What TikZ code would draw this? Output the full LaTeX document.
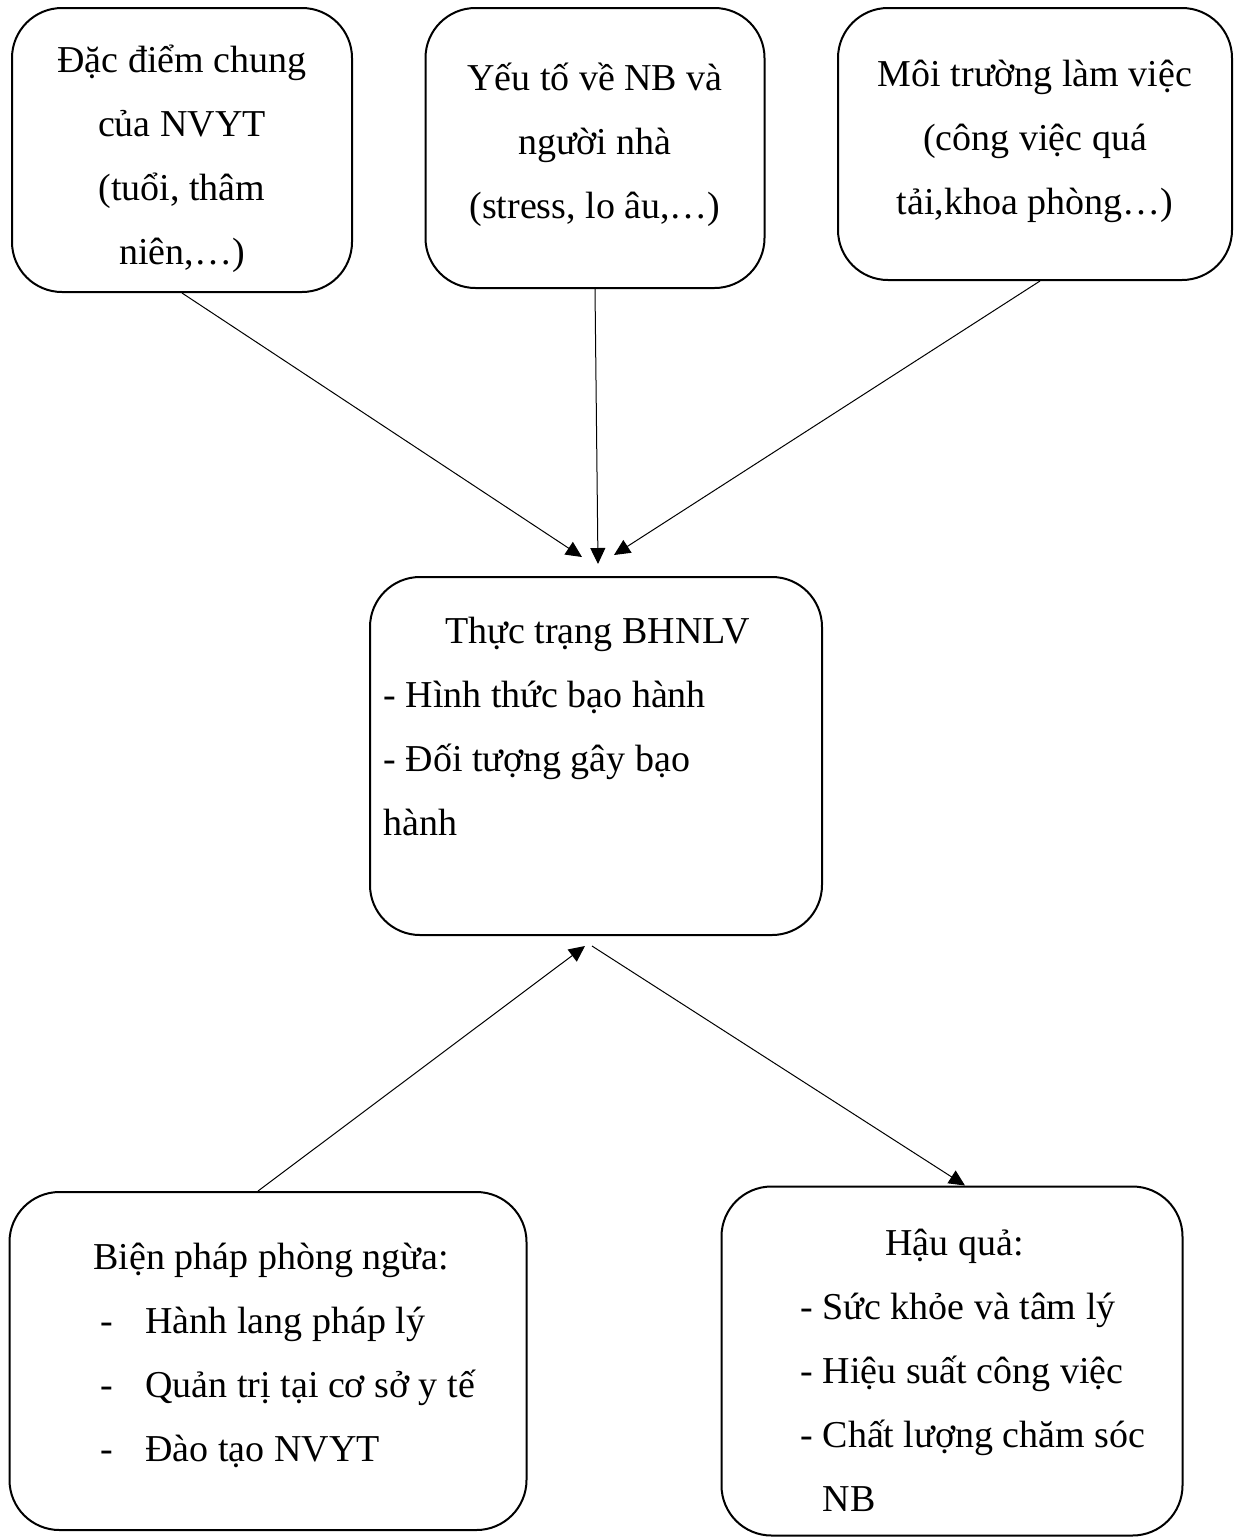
\documentclass[tikz,border=0pt]{standalone}
\usepackage{fontspec}
\setmainfont{Liberation Serif}
\usetikzlibrary{calc,arrows.meta}

\begin{document}
\begin{tikzpicture}[x=0.5pt,y=-0.5pt,line width=0.5pt,
 >={Triangle[length=8pt,width=7.5pt]},
 box/.style={draw,line width=1pt,rounded corners=25pt},
 ctxt/.style={inner sep=0pt,align=center,
  font=\fontsize{19}{32}\selectfont},
 txt/.style={inner sep=0pt,align=left,anchor=north west,
  font=\fontsize{19}{32}\selectfont}]

 \useasboundingbox (0,0) rectangle (1243,1538);

 \node[box,minimum width=170pt,minimum height=142pt] (dacdiem) at (182,150) {};
 \node[ctxt] (dacdiemtxt) at ($(dacdiem)+(0,9)$) {Đặc điểm chung\\của NVYT\\(tuổi, thâm\\niên,…)};

 \node[box,minimum width=169.5pt,minimum height=140pt] (yeuto) at (595,148) {};
 \node[ctxt] (yeutotxt) at ($(yeuto)+(0,-3)$) {Yếu tố về NB và\\người nhà\\(stress, lo âu,…)};

 \node[box,minimum width=197pt,minimum height=136pt] (moitruong) at (1035,144) {};
 \node[ctxt] (moitruongtxt) at ($(moitruong)+(0,-3)$) {Môi trường làm việc\\(công việc quá\\tải,khoa phòng…)};

 \node[box,minimum width=226pt,minimum height=179pt] (thuctrang) at (596,756) {};
 \node[txt] (thuctrangtxt) at (383,617) {\hspace*{31pt}Thực trạng BHNLV\\- Hình thức bạo hành\\- Đối tượng gây bạo\\hành};

 \node[box,minimum width=258.5pt,minimum height=169pt] (bienphap) at (268,1361) {};
 \node[txt] (bienphaptxt) at (93,1243) {Biện pháp phòng ngừa:\\
  \hspace*{3.5pt}\makebox[22.5pt][l]{-}Hành lang pháp lý\\
  \hspace*{3.5pt}\makebox[22.5pt][l]{-}Quản trị tại cơ sở y tế\\
  \hspace*{3.5pt}\makebox[22.5pt][l]{-}Đào tạo NVYT};

 \node[box,minimum width=230.5pt,minimum height=174.5pt] (hauqua) at (952,1361) {};
 \node[txt] (hauquatxt) at (800,1229) {\hspace*{42.5pt}Hậu quả:\\- Sức khỏe và tâm lý\\- Hiệu suất công việc\\- Chất lượng chăm sóc\\\phantom{- }NB};

 \coordinate (inA) at ($(thuctrang.north)+(-14,-19)$);
 \coordinate (inB) at ($(thuctrang.north)+(2,-12)$);
 \coordinate (inC) at ($(thuctrang.north)+(18,-21)$);
 \coordinate (outL) at ($(thuctrang.south)+(-11,10)$);
 \coordinate (outR) at ($(thuctrang.south)+(-4,10)$);
 \coordinate (startL) at ($(bienphap.north)+(-10,0)$);
 \coordinate (inR) at ($(hauqua.north)+(13,0)$);

 \draw[->] (dacdiem.south) -- (inA);
 \draw[->] (yeuto.south) -- (inB);
 \draw[->] ($(moitruong.south)+(5,0)$) -- (inC);
 \draw[->] (startL) -- (outL);
 \draw[->] (outR) -- (inR);

\end{tikzpicture}
\end{document}
